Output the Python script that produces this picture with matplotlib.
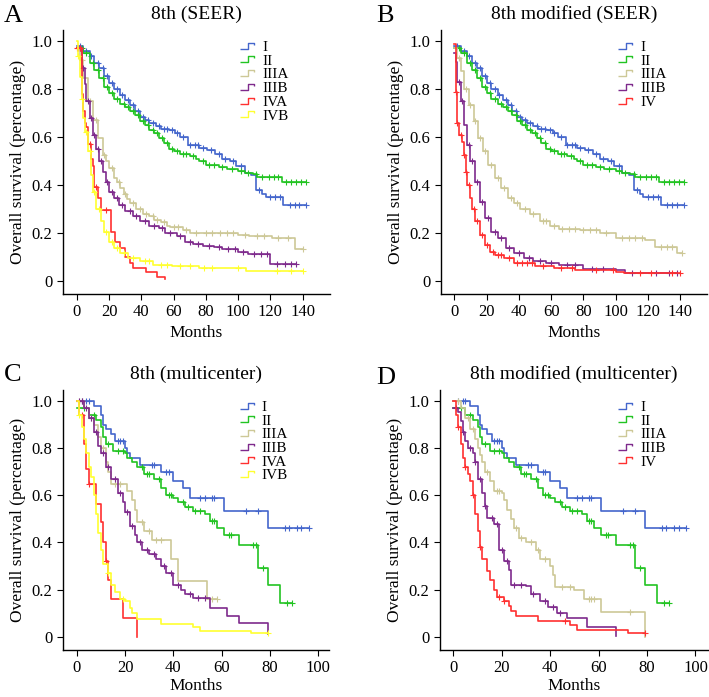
import numpy as np
import matplotlib
matplotlib.use("Agg")
import matplotlib.pyplot as plt
from matplotlib.path import Path
from matplotlib.lines import Line2D

plt.rcParams['font.family'] = ['Liberation Serif', 'DejaVu Serif']

colors = {'I': '#4466cc', 'II': '#22c422', 'IIIA': '#cdc897', 'IIIB': '#7e2a8c',
          'IVA': '#ff3030', 'IVB': '#ffff30', 'IV': '#ff3030'}

# ---- SEER curves (time, survival) ----
seer_I_t = [0, 4, 8, 11, 14, 17, 20, 23, 27, 30, 33, 36, 39, 42, 45, 49, 52, 57, 61, 64, 69, 76, 81, 86, 90, 95, 99, 104, 108, 111, 115, 117, 128]
seer_I_s = [0.98, 0.96, 0.94, 0.91, 0.887, 0.855, 0.825, 0.80, 0.776, 0.755, 0.735, 0.71, 0.685, 0.67, 0.66, 0.645, 0.635, 0.63, 0.615, 0.60, 0.567, 0.555, 0.545, 0.53, 0.51, 0.50, 0.48, 0.45, 0.44, 0.38, 0.36, 0.35, 0.315]
seer_I_c = [2, 6, 9, 13, 16, 19, 22, 25, 28, 32, 35, 38, 41, 44, 47, 51, 54, 56, 59, 62, 66, 70, 73, 75, 78, 83, 88, 92, 97, 102, 113, 120, 123, 126, 132, 135, 138, 142]
seer_I_end = 142

seer_II_t = [0, 4, 8, 11, 14, 17, 20, 23, 27, 30, 33, 36, 39, 42, 45, 48, 51, 54, 57, 60, 64, 70, 74, 76, 80, 88, 93, 100, 104, 109, 112, 127]
seer_II_s = [0.97, 0.95, 0.91, 0.88, 0.845, 0.81, 0.785, 0.76, 0.74, 0.725, 0.71, 0.69, 0.665, 0.65, 0.63, 0.615, 0.595, 0.575, 0.55, 0.54, 0.53, 0.52, 0.51, 0.50, 0.485, 0.475, 0.465, 0.46, 0.45, 0.445, 0.435, 0.41]
seer_II_c = [3, 6, 10, 13, 16, 19, 22, 25, 29, 32, 35, 38, 41, 44, 47, 50, 53, 56, 59, 62, 66, 68, 72, 78, 82, 85, 90, 96, 102, 106, 111, 115, 119, 122, 125, 130, 133, 136, 139, 142]
seer_II_end = 142

a_IIIA_t = [0, 2, 4, 7, 10, 13, 16, 18, 20, 23, 25, 27, 29, 31, 33, 37, 41, 45, 48, 52, 56, 58, 66, 70, 100, 107, 121, 135]
a_IIIA_s = [0.97, 0.92, 0.845, 0.75, 0.67, 0.595, 0.525, 0.50, 0.47, 0.43, 0.41, 0.385, 0.36, 0.34, 0.325, 0.30, 0.28, 0.27, 0.255, 0.245, 0.23, 0.225, 0.21, 0.20, 0.19, 0.185, 0.18, 0.13]
a_IIIA_c = [3, 8, 12, 17, 22, 26, 30, 35, 39, 43, 47, 50, 54, 60, 63, 68, 74, 80, 84, 89, 93, 97, 104, 112, 116, 125, 131, 140]
a_IIIA_end = 140

a_IIIB_t = [0, 3, 5, 6, 8, 10, 12, 14, 16, 18, 20, 23, 26, 30, 35, 39, 45, 51, 55, 62, 67, 72, 78, 85, 90, 100, 106, 120]
a_IIIB_s = [0.97, 0.887, 0.82, 0.75, 0.68, 0.61, 0.55, 0.50, 0.455, 0.41, 0.37, 0.345, 0.315, 0.29, 0.27, 0.25, 0.23, 0.22, 0.20, 0.185, 0.163, 0.155, 0.145, 0.14, 0.13, 0.12, 0.11, 0.068]
a_IIIB_c = [2, 4, 7, 9, 11, 13, 15, 19, 22, 25, 28, 33, 37, 42, 48, 53, 58, 64, 70, 75, 82, 88, 94, 98, 103, 110, 114, 118, 124, 129, 133, 136]
a_IIIB_end = 136

a_IVA_t = [0, 3, 4, 5, 6, 7, 9, 10, 11, 13, 15, 21, 24, 27, 30, 33, 35, 43, 50, 55]
a_IVA_s = [0.97, 0.78, 0.71, 0.66, 0.64, 0.57, 0.51, 0.48, 0.39, 0.345, 0.295, 0.205, 0.163, 0.137, 0.10, 0.073, 0.053, 0.034, 0.017, 0.005]
a_IVA_c = [0, 1, 2, 8, 12, 18]
a_IVA_end = 55

a_IVB_t = [0, 1, 2, 3, 4, 5, 7, 9, 10, 12, 15, 17, 20, 23, 27, 32, 39, 47, 59, 76, 105]
a_IVB_s = [1.0, 0.94, 0.85, 0.76, 0.68, 0.62, 0.54, 0.44, 0.37, 0.30, 0.25, 0.205, 0.163, 0.137, 0.116, 0.095, 0.08, 0.066, 0.06, 0.053, 0.04]
a_IVB_c = [1, 3, 6, 8, 11, 14, 18, 22, 25, 29, 35, 42, 45, 52, 56, 64, 70, 79, 84, 100, 124, 133, 140]
a_IVB_end = 140

b_IIIA_t = [0, 2, 4, 6, 9, 12, 15, 18, 21, 25, 29, 33, 37, 41, 47, 53, 59, 65, 78, 90, 100, 118, 124, 138]
b_IIIA_s = [0.97, 0.93, 0.875, 0.80, 0.735, 0.665, 0.595, 0.54, 0.483, 0.43, 0.386, 0.345, 0.325, 0.30, 0.28, 0.25, 0.23, 0.215, 0.21, 0.20, 0.18, 0.17, 0.14, 0.115]
b_IIIA_c = [3, 7, 10, 13, 16, 19, 23, 27, 31, 35, 39, 44, 49, 55, 57, 62, 67, 71, 75, 80, 84, 88, 94, 104, 108, 112, 116, 128, 132, 135, 141]
b_IIIA_end = 141

b_IIIB_t = [0, 1, 2, 4, 6, 8, 10, 13, 16, 19, 23, 27, 32, 37, 43, 49, 57, 65, 80, 100, 106]
b_IIIB_s = [0.95, 0.915, 0.83, 0.75, 0.65, 0.567, 0.50, 0.41, 0.33, 0.26, 0.205, 0.177, 0.135, 0.114, 0.094, 0.08, 0.073, 0.066, 0.05, 0.045, 0.03]
b_IIIB_c = [3, 5, 9, 11, 14, 17, 21, 25, 29, 34, 40, 46, 53, 60, 70, 75, 85, 92, 110, 125, 133, 138]
b_IIIB_end = 138

b_IV_t = [0, 1, 2, 3, 5, 6, 7, 8, 10, 11, 13, 16, 19, 22, 25, 31, 37, 50, 62, 75, 100, 105]
b_IV_s = [0.99, 0.79, 0.66, 0.61, 0.58, 0.525, 0.455, 0.40, 0.345, 0.30, 0.25, 0.19, 0.15, 0.12, 0.107, 0.094, 0.073, 0.06, 0.053, 0.046, 0.035, 0.032]
b_IV_c = [1, 2, 4, 6, 7, 9, 12, 14, 17, 20, 24, 27, 29, 34, 39, 42, 45, 48, 55, 66, 73, 88, 98, 115, 122, 135, 140]
b_IV_end = 140

# ---- multicenter curves ----
mc_I_t = [0, 7, 10, 11, 12, 14, 16, 20, 21, 22, 23, 26, 35, 40, 44, 47, 61, 79]
mc_I_s = [1.0, 0.98, 0.94, 0.90, 0.88, 0.86, 0.83, 0.80, 0.78, 0.76, 0.76, 0.73, 0.70, 0.66, 0.63, 0.59, 0.535, 0.46]
mc_I_c = [2, 4, 5, 17, 18, 19, 31, 32, 37, 38, 51, 53, 56, 57, 70, 75, 86, 88, 91, 93, 96]
mc_I_end = 96

mc_II_t = [0, 5, 8, 10, 11, 12, 15, 20, 21, 23, 25, 28, 32, 35, 37, 40, 42, 45, 48, 53, 55, 58, 61, 67, 75, 79, 84]
mc_II_s = [0.97, 0.94, 0.92, 0.89, 0.85, 0.82, 0.79, 0.78, 0.76, 0.74, 0.72, 0.69, 0.67, 0.63, 0.60, 0.59, 0.57, 0.55, 0.535, 0.52, 0.49, 0.46, 0.43, 0.39, 0.29, 0.22, 0.145]
mc_II_c = [3, 7, 13, 17, 19, 27, 29, 30, 34, 38, 39, 44, 46, 49, 51, 56, 57, 63, 64, 73, 74, 77, 87, 89]
mc_II_end = 89

c_IIIA_t = [0, 3, 5, 7, 9, 10, 12, 13, 14, 20, 21, 23, 24, 25, 28, 31, 39, 42, 54]
c_IIIA_s = [1.0, 0.97, 0.93, 0.90, 0.85, 0.80, 0.74, 0.70, 0.65, 0.65, 0.62, 0.58, 0.54, 0.485, 0.45, 0.41, 0.33, 0.235, 0.16]
c_IIIA_c = [1, 2, 6, 11, 16, 18, 27, 30, 33, 35, 56, 58]
c_IIIA_end = 58

c_IIIB_t = [0, 3, 5, 7, 9, 10, 12, 14, 17, 19, 20, 22, 24, 25, 27, 30, 33, 35, 37, 40, 43, 45, 48, 55, 62, 67, 79]
c_IIIB_s = [1.0, 0.97, 0.93, 0.87, 0.81, 0.78, 0.72, 0.67, 0.61, 0.57, 0.53, 0.47, 0.43, 0.40, 0.37, 0.35, 0.33, 0.30, 0.27, 0.22, 0.20, 0.18, 0.165, 0.12, 0.09, 0.06, 0.012]
c_IIIB_c = [1, 2, 4, 6, 8, 11, 13, 16, 18, 21, 23, 26, 29, 32, 36, 39, 42, 47, 50, 53]
c_IIIB_end = 79

c_IVA_t = [0, 1, 3, 4, 5, 8, 10, 11, 12, 13, 14, 19, 25]
c_IVA_s = [1.0, 0.94, 0.82, 0.71, 0.65, 0.565, 0.485, 0.40, 0.32, 0.24, 0.16, 0.08, 0.0]
c_IVA_c = [2, 5, 12]
c_IVA_end = 25

c_IVB_t = [0, 1, 2, 3, 4, 5, 6, 7, 8, 9, 10, 11, 13, 14, 16, 18, 20, 22, 23, 25, 35, 48, 51, 72]
c_IVB_s = [1.0, 0.94, 0.89, 0.84, 0.78, 0.72, 0.68, 0.60, 0.52, 0.44, 0.37, 0.31, 0.27, 0.22, 0.19, 0.16, 0.15, 0.12, 0.10, 0.075, 0.055, 0.04, 0.025, 0.015]
c_IVB_c = [1, 13, 19, 79]
c_IVB_end = 79

d_IIIA_t = [0, 3, 5, 7, 9, 10, 11, 12, 13, 15, 17, 20, 21, 22, 24, 25, 27, 30, 34, 36, 40, 41, 42, 50, 54, 61, 79]
d_IIIA_s = [1.0, 0.97, 0.93, 0.88, 0.84, 0.80, 0.77, 0.74, 0.70, 0.66, 0.62, 0.61, 0.58, 0.54, 0.50, 0.46, 0.42, 0.40, 0.37, 0.33, 0.30, 0.26, 0.21, 0.20, 0.16, 0.105, 0.0]
d_IIIA_c = [2, 6, 8, 14, 18, 19, 26, 28, 32, 35, 38, 45, 48, 56, 57, 58, 73]
d_IIIA_end = 79

d_IIIB_t = [0, 2, 3, 4, 5, 6, 8, 9, 10, 12, 13, 14, 17, 19, 21, 23, 24, 30, 32, 36, 39, 43, 47, 55, 67]
d_IIIB_s = [0.97, 0.955, 0.915, 0.87, 0.83, 0.80, 0.78, 0.74, 0.67, 0.61, 0.555, 0.505, 0.48, 0.37, 0.32, 0.285, 0.22, 0.215, 0.18, 0.15, 0.125, 0.10, 0.08, 0.04, 0.005]
d_IIIB_c = [1, 4, 7, 9, 11, 13, 16, 18, 20, 22, 25, 28, 33, 38, 41, 44]
d_IIIB_end = 67

d_IV_t = [0, 1, 2, 3, 4, 5, 6, 7, 8, 9, 10, 11, 12, 14, 15, 17, 18, 21, 23, 24, 26, 35, 48, 51, 72, 79]
d_IV_s = [1.0, 0.94, 0.89, 0.82, 0.76, 0.72, 0.69, 0.66, 0.60, 0.52, 0.45, 0.38, 0.33, 0.28, 0.24, 0.20, 0.17, 0.15, 0.13, 0.11, 0.09, 0.065, 0.05, 0.03, 0.015, 0.015]
d_IV_c = [2, 5, 8, 11, 19, 21, 46, 79]
d_IV_end = 79

panels = [
    ('A', '8th (SEER)', [0, 20, 40, 60, 80, 100, 120, 140], (-8.5, 157), [
        ('I', seer_I_t, seer_I_s, seer_I_c, seer_I_end),
        ('II', seer_II_t, seer_II_s, seer_II_c, seer_II_end),
        ('IIIA', a_IIIA_t, a_IIIA_s, a_IIIA_c, a_IIIA_end),
        ('IIIB', a_IIIB_t, a_IIIB_s, a_IIIB_c, a_IIIB_end),
        ('IVA', a_IVA_t, a_IVA_s, a_IVA_c, a_IVA_end),
        ('IVB', a_IVB_t, a_IVB_s, a_IVB_c, a_IVB_end)]),
    ('B', '8th modified (SEER)', [0, 20, 40, 60, 80, 100, 120, 140], (-8.2, 156.4), [
        ('I', seer_I_t, seer_I_s, seer_I_c, seer_I_end),
        ('II', seer_II_t, seer_II_s, seer_II_c, seer_II_end),
        ('IIIA', b_IIIA_t, b_IIIA_s, b_IIIA_c, b_IIIA_end),
        ('IIIB', b_IIIB_t, b_IIIB_s, b_IIIB_c, b_IIIB_end),
        ('IV', b_IV_t, b_IV_s, b_IV_c, b_IV_end)]),
    ('C', '8th (multicenter)', [0, 20, 40, 60, 80, 100], (-5.8, 104.4), [
        ('I', mc_I_t, mc_I_s, mc_I_c, mc_I_end),
        ('II', mc_II_t, mc_II_s, mc_II_c, mc_II_end),
        ('IIIA', c_IIIA_t, c_IIIA_s, c_IIIA_c, c_IIIA_end),
        ('IIIB', c_IIIB_t, c_IIIB_s, c_IIIB_c, c_IIIB_end),
        ('IVA', c_IVA_t, c_IVA_s, c_IVA_c, c_IVA_end),
        ('IVB', c_IVB_t, c_IVB_s, c_IVB_c, c_IVB_end)]),
    ('D', '8th modified (multicenter)', [0, 20, 40, 60, 80, 100], (-5.5, 105), [
        ('I', mc_I_t, mc_I_s, mc_I_c, mc_I_end),
        ('II', mc_II_t, mc_II_s, mc_II_c, mc_II_end),
        ('IIIA', d_IIIA_t, d_IIIA_s, d_IIIA_c, d_IIIA_end),
        ('IIIB', d_IIIB_t, d_IIIB_s, d_IIIB_c, d_IIIB_end),
        ('IV', d_IV_t, d_IV_s, d_IV_c, d_IV_end)]),
]

positions = [
    [0.0889, 0.5782, 0.3766, 0.379],
    [0.622, 0.5782, 0.375, 0.379],
    [0.0884, 0.0676, 0.3756, 0.373],
    [0.6206, 0.0676, 0.3774, 0.373],
]
letter_xy = [(0.005, 0.977), (0.530, 0.977), (0.005, 0.462), (0.530, 0.458)]
xlabel_pad = [3, 3, 1, 1]

# step-shaped glyph for the legend
step_glyph = Path([(-1, -0.45), (0.15, -0.45), (0.15, 0.45), (1, 0.45), (1, 0.15)],
                  [Path.MOVETO, Path.LINETO, Path.LINETO, Path.LINETO, Path.LINETO])

fig = plt.figure(figsize=(7.09, 6.97), dpi=100)

for (letter, title, xt, xl, curves), pos, lxy, xpad in zip(panels, positions, letter_xy, xlabel_pad):
    ax = fig.add_axes(pos)
    handles = []
    for name, t, s, cens, end in curves:
        c = colors[name]
        t = np.array(t, float)
        s = np.array(s, float)
        tt = np.append(t, end)
        ss = np.append(s, s[-1])
        ax.step(tt, ss, where='post', color=c, lw=1.2)
        cens = np.array(cens, float)
        idx = np.searchsorted(t, cens, side='right') - 1
        ax.plot(cens, s[idx], ls='none', marker='+', ms=4.5, mew=0.8, color=c)
        handles.append(Line2D([], [], ls='none', marker=step_glyph, ms=10, mew=1.0,
                              mfc='none', mec=c, label=name))
    ax.set_xlim(*xl)
    ax.set_ylim(-0.056, 1.048)
    ax.set_xticks(xt)
    ax.set_yticks([0, 0.2, 0.4, 0.6, 0.8, 1.0])
    ax.set_yticklabels(['0', '0.2', '0.4', '0.6', '0.8', '1.0'])
    for sp in ['top', 'right']:
        ax.spines[sp].set_visible(False)
    for sp in ['left', 'bottom']:
        ax.spines[sp].set_linewidth(1.0)
    ax.tick_params(direction='out', length=4, width=0.8, labelsize=12)
    ax.set_xlabel('Months', fontsize=12.5, labelpad=xpad)
    ax.set_ylabel('Overall survival (percentage)', fontsize=12.5, labelpad=4)
    ax.set_title(title, fontsize=14, pad=8)
    ax.legend(handles=handles, loc='upper left', bbox_to_anchor=(0.662, 0.96),
              frameon=False, fontsize=11, handlelength=1.0, handletextpad=0.5,
              labelspacing=0.0, borderaxespad=0, borderpad=0)
    fig.text(lxy[0], lxy[1], letter, fontsize=19, va='center', ha='left')

fig.savefig('out.png', dpi=100)
